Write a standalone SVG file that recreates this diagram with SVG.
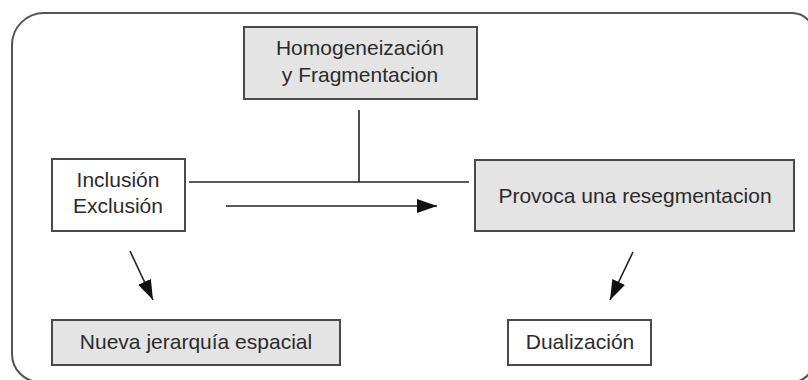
<svg xmlns="http://www.w3.org/2000/svg" width="808" height="380" viewBox="0 0 808 380">
  <defs>
    <marker id="ah" markerUnits="userSpaceOnUse" markerWidth="22" markerHeight="16" refX="20" refY="7" orient="auto">
      <path d="M0,0 L20,7 L0,14 z" fill="#111"/>
    </marker>
    <style>
      .box { stroke: #4a4a4a; stroke-width: 2; }
      .grey { fill: #e4e4e4; }
      .white { fill: #ffffff; }
      .lbl { font-family: "Liberation Sans", Arial, sans-serif; font-size: 21px; fill: #2b2b2b; text-anchor: middle; }
      .conn { stroke: #222; stroke-width: 1.6; fill: none; }
    </style>
  </defs>
  <rect width="808" height="380" fill="#fff"/>
  <path d="M12,45 A32,32 0 0 1 44,13 L792,13 A22,22 0 0 1 814,35 L814,360 A22,22 0 0 1 792,382 L40,382 A28,28 0 0 1 12,354 Z" fill="none" stroke="#555" stroke-width="2"/>

  <g id="connectors">
    <line class="conn" x1="359" y1="110" x2="359" y2="182"/>
    <line class="conn" x1="189" y1="182" x2="469" y2="182"/>
    <line class="conn" x1="226" y1="206" x2="437" y2="206" marker-end="url(#ah)"/>
    <line class="conn" x1="130" y1="251" x2="153" y2="300" marker-end="url(#ah)"/>
    <line class="conn" x1="633" y1="252" x2="610" y2="300" marker-end="url(#ah)"/>
  </g>

  <g id="homogeneizacion">
    <rect class="box grey" x="244" y="27" width="233" height="72"/>
    <text class="lbl" x="360" y="55">Homogeneización</text>
    <text class="lbl" x="360" y="82">y Fragmentacion</text>
  </g>
  <g id="inclusion">
    <rect class="box white" x="52" y="159" width="133" height="72"/>
    <text class="lbl" x="118" y="187">Inclusión</text>
    <text class="lbl" x="118" y="213">Exclusión</text>
  </g>
  <g id="provoca">
    <rect class="box grey" x="475" y="160" width="319" height="71"/>
    <text class="lbl" x="635" y="203">Provoca una resegmentacion</text>
  </g>
  <g id="nueva">
    <rect class="box grey" x="52" y="320" width="288" height="45"/>
    <text class="lbl" x="196" y="349">Nueva jerarquía espacial</text>
  </g>
  <g id="dualizacion">
    <rect class="box white" x="508" y="320" width="143" height="45"/>
    <text class="lbl" x="580" y="349">Dualización</text>
  </g>
</svg>
